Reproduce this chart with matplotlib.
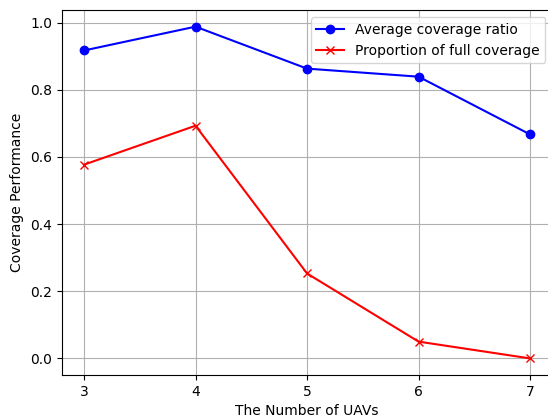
import matplotlib
matplotlib.use("Agg")
import matplotlib.pyplot as plt

num_uavs = [3, 4, 5, 6, 7]
avg_coverage = [0.917, 0.988, 0.863, 0.839, 0.667]
full_coverage = [0.577, 0.693, 0.253, 0.050, 0.0]

fig, ax = plt.subplots(figsize=(5.48, 4.19), dpi=100)
ax.plot(num_uavs, avg_coverage, "b-o", label="Average coverage ratio")
ax.plot(num_uavs, full_coverage, "r-x", label="Proportion of full coverage")
ax.set_xticks(num_uavs)
ax.set_xlabel("The Number of UAVs")
ax.set_ylabel("Coverage Performance")
ax.grid(True)
ax.legend()
# the reference is cropped just inside the right spine
fig.subplots_adjust(left=0.1126, right=1.008, top=0.976, bottom=0.105)
fig.savefig("out.png")
